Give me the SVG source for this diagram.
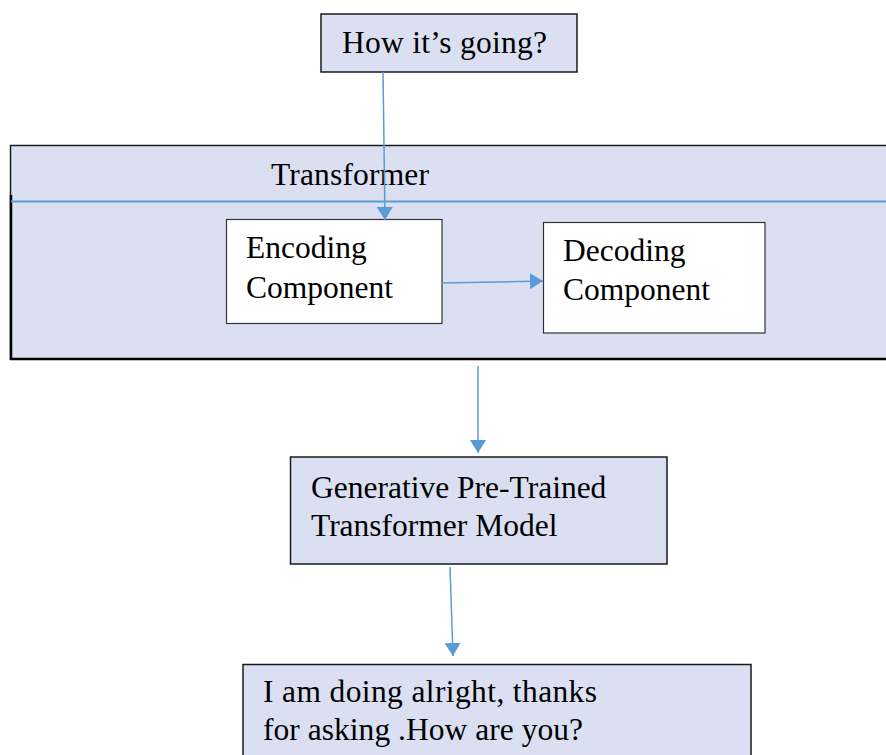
<svg xmlns="http://www.w3.org/2000/svg" width="886" height="755" viewBox="0 0 886 755">
<defs>
<style>
.box{fill:#DAE0F2;stroke:#1a1a1a;stroke-width:1.5}
.wbox{fill:#FFFFFF;stroke:#333;stroke-width:1.2}
.t{font-family:"Liberation Serif","Times New Roman",serif;font-size:31.5px;fill:#000}
.c{stroke:#5B9BD5;stroke-width:1.5;fill:none}
</style>
<marker id="ah" viewBox="0 0 13 16" refX="13" refY="8" markerWidth="13" markerHeight="16" markerUnits="userSpaceOnUse" orient="auto">
<path d="M0,0 L13,8 L0,16 Z" fill="#5B9BD5"/>
</marker>
</defs>
<rect width="886" height="755" fill="#FFFFFF"/>
<g id="transformer">
<rect class="box" x="10.5" y="145.5" width="880" height="213.5" stroke-width="2"/>
<line x1="11" y1="195" x2="11" y2="360" stroke="#000" stroke-width="2.5"/>
<line x1="10" y1="359" x2="886" y2="359" stroke="#000" stroke-width="2.5"/>
<line x1="11" y1="201.5" x2="886" y2="201.5" stroke="#5B9BD5" stroke-width="2"/>
<text class="t" x="271" y="185" textLength="158" lengthAdjust="spacing">Transformer</text>
</g>
<g id="input">
<rect class="box" x="321" y="14" width="256" height="58"/>
<text class="t" x="342" y="53" textLength="205" lengthAdjust="spacing">How it’s going?</text>
</g>
<g id="encoding">
<rect class="wbox" x="226.5" y="219.5" width="215.5" height="104"/>
<text class="t" x="246" y="258">Encoding</text>
<text class="t" x="246" y="298">Component</text>
</g>
<g id="decoding">
<rect class="wbox" x="543.5" y="222.5" width="221.5" height="110.5"/>
<text class="t" x="563" y="261">Decoding</text>
<text class="t" x="563" y="300">Component</text>
</g>
<g id="gpt">
<rect class="box" x="290.5" y="457" width="376.5" height="107"/>
<text class="t" x="311" y="498">Generative Pre-Trained</text>
<text class="t" x="311" y="536">Transformer Model</text>
</g>
<g id="output">
<rect class="box" x="243" y="664.5" width="508" height="100"/>
<text class="t" x="263" y="702" textLength="334" lengthAdjust="spacing">I am doing alright, thanks</text>
<text class="t" x="263" y="740" textLength="320" lengthAdjust="spacing">for asking .How are you?</text>
</g>
<g id="connectors">
<line class="c" x1="383" y1="72" x2="385" y2="220" marker-end="url(#ah)"/>
<line class="c" x1="442" y1="283" x2="543" y2="281" marker-end="url(#ah)"/>
<line class="c" x1="478" y1="366" x2="478" y2="453" marker-end="url(#ah)"/>
<line class="c" x1="450" y1="567" x2="453" y2="656" marker-end="url(#ah)"/>
</g>
</svg>
